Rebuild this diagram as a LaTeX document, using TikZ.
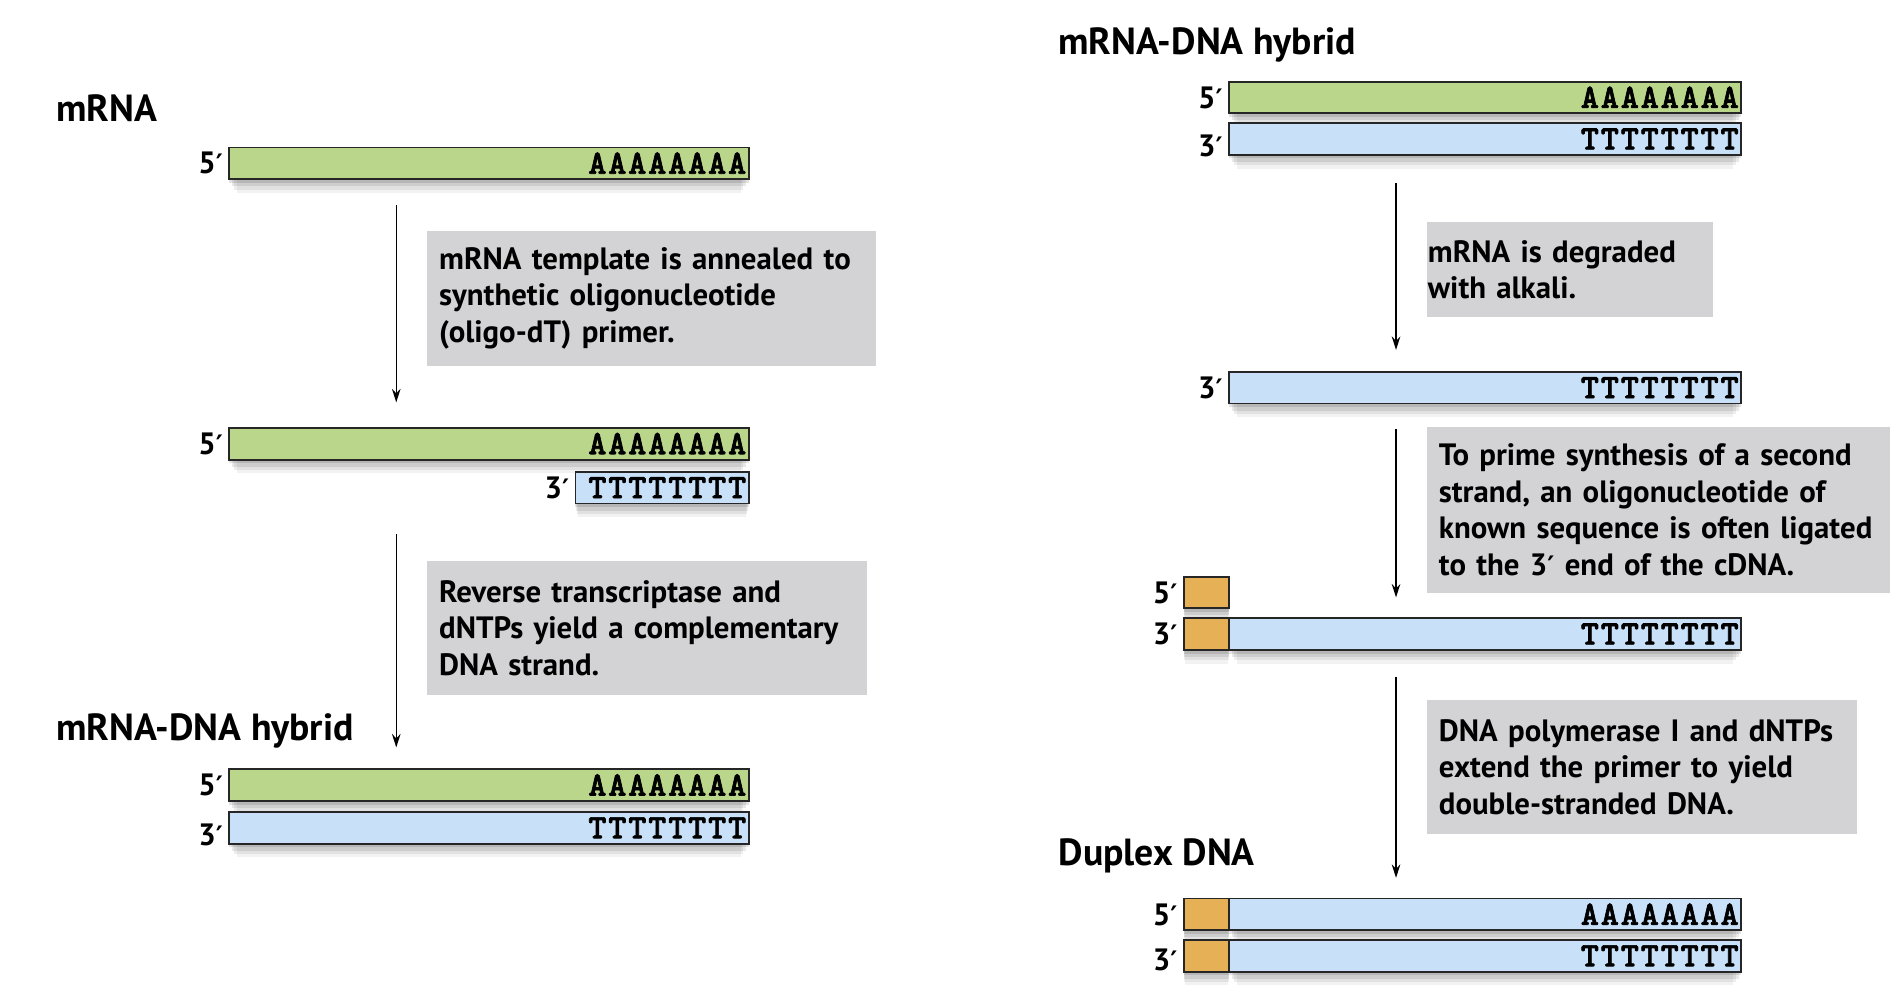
\documentclass[tikz,border=0pt]{standalone}
\usepackage{fontspec}
\setmainfont{PT Sans}
\newfontfamily\seqfont{lmmonolt10-bold}[Extension=.otf, LetterSpace=6, FakeBold=2]
\newfontfamily\primefont{DejaVu Sans}
\usetikzlibrary{arrows.meta,positioning,shadows}

\definecolor{rnagreen}{RGB}{186,214,138}
\definecolor{dnablue}{RGB}{200,225,249}
\definecolor{linkorange}{RGB}{229,176,86}
\definecolor{notegray}{RGB}{211,211,213}

\newcommand\notefont{\bfseries\fontsize{25.3}{30}\selectfont}
\newcommand\headfont{\bfseries\fontsize{31}{36}\selectfont}
\newcommand\primesign{{\primefont\fontsize{22}{30}\selectfont ′}}

\tikzset{
  softshadow/.style={
    drop shadow={shadow xshift=0pt, shadow yshift=-3pt, opacity=.11, fill=black},
    drop shadow={shadow xshift=0pt, shadow yshift=-6pt, shadow scale=.99, opacity=.09, fill=black},
    drop shadow={shadow xshift=0pt, shadow yshift=-9pt, shadow scale=.98, opacity=.07, fill=black},
    drop shadow={shadow xshift=0pt, shadow yshift=-12pt, shadow scale=.97, opacity=.05, fill=black}},
  strand/.style={draw=black!85, line width=1.5pt, minimum height=26pt,
    inner xsep=2pt, inner ysep=0pt, outer sep=0pt, anchor=north west,
    align=right, text height=17pt, text depth=0pt,
    font=\seqfont\fontsize{28}{30}\selectfont, softshadow},
  rna/.style={strand, fill=rnagreen},
  dna/.style={strand, fill=dnablue},
  leftlen/.style={text width=422pt},
  rightlen/.style={text width=416pt},
  linker/.style={draw=black!85, line width=1.5pt, fill=linkorange,
    minimum width=37pt, minimum height=26pt, inner sep=0pt, outer sep=0pt,
    softshadow},
  primelabel/.style={font=\notefont, inner sep=0pt},
  heading/.style={font=\headfont, anchor=base west, inner sep=0pt},
  note/.style={fill=notegray, anchor=north west, align=left,
    inner ysep=0pt, inner xsep=10pt, font=\notefont,
    execute at begin node={\hyphenpenalty=10000}},
  flow/.style={-{Stealth[length=11pt,width=7pt]}, line width=1.2pt}
}

\begin{document}
\begin{tikzpicture}[x=1pt,y=-1pt]
  \useasboundingbox (0,0) rectangle (1560,810);

  % left column
  \node[heading] (hmrna) at (46,100) {mRNA};
  \node[rna, leftlen] (rna1) at (188,121) {AAAAAAAA};
  \node[primelabel, left=5pt of rna1] (rna1e) {5\primesign};

  \node[note, text width=348pt, minimum height=111pt] (note1) at (350,189)
    {mRNA template is annealed to\\ synthetic oligonucleotide\\ (oligo-dT) primer.};

  \node[rna, leftlen] (rna2) at (188,351) {AAAAAAAA};
  \node[primelabel, left=5pt of rna2] (rna2e) {5\primesign};
  \node[dna, text width=138pt] (prim2) at (472,387) {TTTTTTTT};
  \node[primelabel, left=5pt of prim2] (prim2e) {3\primesign};

  \node[note, text width=341pt, minimum height=110pt] (note2) at (350,460)
    {Reverse transcriptase and\\ dNTPs yield a complementary\\ DNA strand.};

  \node[heading] (hhyb1) at (46,607) {mRNA-DNA hybrid};
  \node[rna, leftlen] (rna3) at (188,631) {AAAAAAAA};
  \node[primelabel, left=5pt of rna3] (rna3e) {5\primesign};
  \node[dna, leftlen] (dna3) at (188,666) {TTTTTTTT};
  \node[primelabel, left=5pt of dna3, yshift=-6pt] (dna3e) {3\primesign};

  \coordinate (f1a) at (325,168);  \coordinate (f1b) at (325,330);
  \coordinate (f2a) at (325,438);  \coordinate (f2b) at (325,613);
  \draw[flow] (f1a) -- (f1b);
  \draw[flow] (f2a) -- (f2b);

  % right column
  \node[heading] (hhyb2) at (868,45) {mRNA-DNA hybrid};
  \node[rna, rightlen] (rna4) at (1008,67) {AAAAAAAA};
  \node[primelabel, left=5pt of rna4] (rna4e) {5\primesign};
  \node[dna, rightlen] (dna4) at (1008,101) {TTTTTTTT};
  \node[primelabel, left=5pt of dna4, yshift=-6pt] (dna4e) {3\primesign};

  \node[note, inner xsep=1pt, text width=233pt, minimum height=78pt] (note3) at (1170,182)
    {mRNA is degraded\\ with alkali.};

  \node[dna, rightlen] (dna5) at (1008,305) {TTTTTTTT};
  \node[primelabel, left=5pt of dna5] (dna5e) {3\primesign};

  \node[note, text width=360pt, minimum height=136pt] (note4) at (1170,350)
    {To prime synthesis of a second\\ strand, an oligonucleotide of\\
     known sequence is often ligated\\ to the 3\primesign{} end of the cDNA.};

  \node[linker, anchor=north west] (link6) at (971,473) {};
  \node[primelabel, left=5pt of link6] (link6e) {5\primesign};
  \node[dna, rightlen] (dna6) at (1008,507) {TTTTTTTT};
  \node[linker, anchor=east] (tail6) at (dna6.west) {};
  \node[primelabel, left=5pt of tail6] (tail6e) {3\primesign};

  \node[note, text width=333pt, minimum height=110pt] (note5) at (1170,574)
    {DNA polymerase I and dNTPs\\ extend the primer to yield\\ double-stranded DNA.};

  \node[heading] (hdup) at (868,710) {Duplex DNA};
  \node[dna, rightlen] (dna7) at (1008,737) {AAAAAAAA};
  \node[linker, anchor=east] (tail7) at (dna7.west) {};
  \node[primelabel, left=5pt of tail7] (tail7e) {5\primesign};
  \node[dna, rightlen] (dna8) at (1008,771) {TTTTTTTT};
  \node[linker, anchor=east] (tail8) at (dna8.west) {};
  \node[primelabel, left=5pt of tail8, yshift=-3pt] (tail8e) {3\primesign};

  \coordinate (f3a) at (1145,150);  \coordinate (f3b) at (1145,287);
  \coordinate (f4a) at (1145,352);  \coordinate (f4b) at (1145,490);
  \coordinate (f5a) at (1145,555);  \coordinate (f5b) at (1145,720);
  \draw[flow] (f3a) -- (f3b);
  \draw[flow] (f4a) -- (f4b);
  \draw[flow] (f5a) -- (f5b);
\end{tikzpicture}
\end{document}
